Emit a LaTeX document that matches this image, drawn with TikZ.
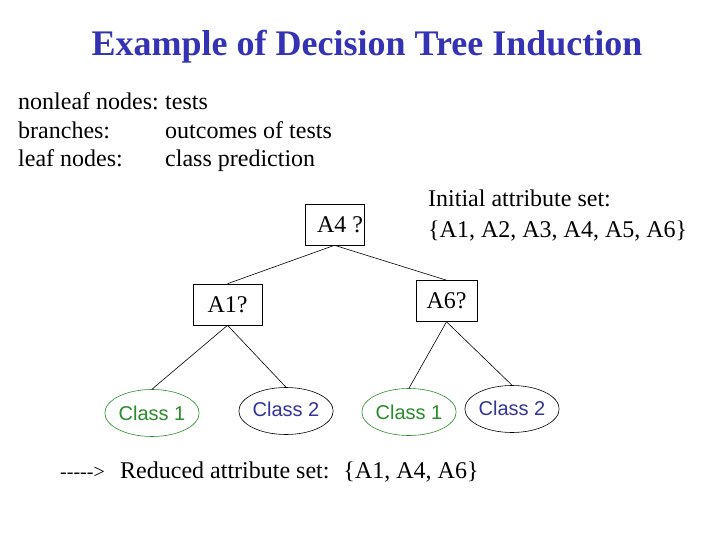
\documentclass[tikz,border=0pt]{standalone}
\usepackage{fontspec}
\setmainfont{Liberation Serif}
\setsansfont{Liberation Sans}
\usetikzlibrary{shapes.geometric}

\definecolor{titleblue}{RGB}{51,51,179}
\definecolor{leafgreen}{RGB}{40,140,40}
\definecolor{leafblue}{RGB}{51,51,153}

\tikzset{
    txt/.style={anchor=base west, inner sep=0pt, font=\fontsize{24}{28}\selectfont},
    testbox/.style={draw, line width=0.6pt, inner sep=0pt, minimum height=41pt,
      minimum width=#1, font=\fontsize{24}{28}\selectfont},
    leafone/.style={ellipse, draw=leafgreen, text=leafgreen, line width=0.6pt, inner sep=0pt,
      minimum width=90pt, minimum height=47pt, font=\sffamily\fontsize{20}{24}\selectfont},
    leaftwo/.style={ellipse, draw=black, text=leafblue, line width=0.6pt, inner sep=0pt,
      minimum width=90pt, minimum height=47pt, font=\sffamily\fontsize{20}{24}\selectfont},
    branch/.style={line width=0.6pt}
  }

\begin{document}
\begin{tikzpicture}[x=1pt, y=-1pt]
    \useasboundingbox (0,0) rectangle (720,540);

    \node[anchor=base, inner sep=0pt, text=titleblue, font=\bfseries\fontsize{36}{40}\selectfont]
      (title) at (367,56) {Example of Decision Tree Induction};

    % legend
    \node[txt] (k1) at (18,110) {nonleaf nodes:};
    \node[txt] (v1) at (165,110) {tests};
    \node[txt] (k2) at (18,139) {branches:};
    \node[txt] (v2) at (165,139) {outcomes of tests};
    \node[txt] (k3) at (18,167) {leaf nodes:};
    \node[txt] (v3) at (165,167) {class prediction};

    \node[txt] (init1) at (428,207) {Initial attribute set:};
    \node[txt] (init2) at (428,237) {\{A1, A2, A3, A4, A5, A6\}};

    % tree
    \node[testbox=59pt] (a4) at (334.5,224.5) {\hspace*{11pt}A4 ?};
    \node[testbox=69pt] (a1) at (227.5,304.5) {A1?};
    \node[testbox=61pt] (a6) at (446.5,301) {A6?};

    \node[leafone] (c1) at (152,413) {Class 1};
    \node[leaftwo] (c2) at (286,411) {\raisebox{4pt}{Class 2}};
    \node[leafone] (c3) at (409,412) {Class 1};
    \node[leaftwo] (c4) at (512,409) {\raisebox{2pt}{Class 2}};

    \draw[branch] (a4.south) -- (a1.north);
    \draw[branch] (a4.south) -- (a6.north);
    \draw[branch] (a1.south) -- (c1.north);
    \draw[branch] (a1.south) -- (c2.north);
    \draw[branch] (a6.south) -- (c3.north);
    \draw[branch] (a6.south) -- (c4.north);

    % reduced set
    \node[txt, font=\fontsize{20}{24}\selectfont] (arr) at (60,478) {{-}{-}{-}{-}{-}>};
    \node[txt] (red) at (120,478) {Reduced attribute set: \hspace*{6pt}\{A1, A4, A6\}};

  \end{tikzpicture}
\end{document}
